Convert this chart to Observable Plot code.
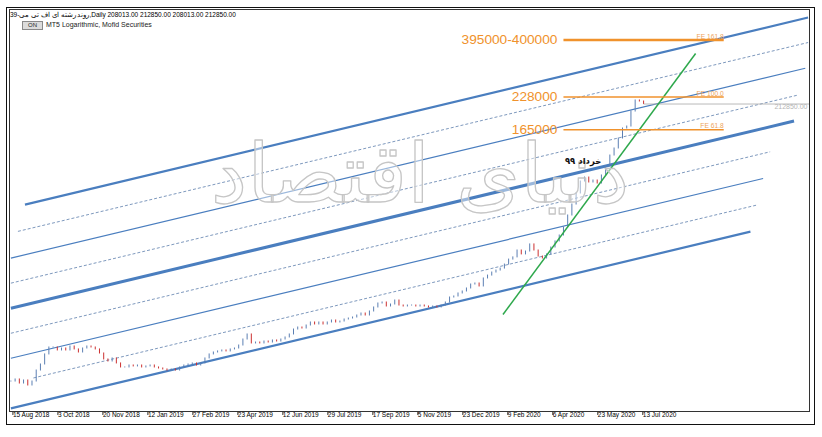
<!DOCTYPE html>
<html><head><meta charset="utf-8">
<script src="https://cdn.jsdelivr.net/npm/d3@7"></script>
<script src="https://cdn.jsdelivr.net/npm/@observablehq/plot@0.6"></script>
<style>
body{margin:0;background:#fff;width:822px;height:437px;overflow:hidden;position:relative;font-family:"Liberation Sans",Arial,sans-serif;}
#chart{position:absolute;left:0;top:0;}
#outer{position:absolute;left:6px;top:7px;width:809px;height:418px;border:1.5px solid #111;box-sizing:border-box;pointer-events:none;}
#hdr{position:absolute;left:10px;top:10.5px;font-size:6.5px;line-height:8px;color:#000;white-space:nowrap;}
#on{position:absolute;left:22px;top:21px;width:19px;height:7px;background:#dcdcdc;border:0.8px solid #8a8a8a;font-size:6px;line-height:7px;text-align:center;color:#222;}
#src{position:absolute;left:46px;top:20.5px;font-size:7px;line-height:8px;color:#222;white-space:nowrap;}
</style></head>
<body>
<div id="chart"></div>
<div id="hdr"></div>
<div id="on">ON</div>
<div id="src"></div>
<div id="outer"></div>
<script>
// ---------- data ----------
const headerText = "39-روند رشته ای اف تی می,Daily  208013.00 212850.00 208013.00 212850.00";
const sourceText = "MT5 Logarithmic, Mofid Securities";

const tickLabels = ["15 Aug 2018","3 Oct 2018","20 Nov 2018","12 Jan 2019","27 Feb 2019","23 Apr 2019","12 Jun 2019","29 Jul 2019","17 Sep 2019","5 Nov 2019","23 Dec 2019","9 Feb 2020","6 Apr 2020","23 May 2020","13 Jul 2020"];
const tickBars = [0,32,64,96,128,160,192,224,256,288,320,352,384,416,448];

const barStep = 3; // one close every 3 trading bars
const closes = [13790,14070,13520,13930,13260,13790,15370,16310,18010,19290,
19290,18730,19100,18730,19480,18920,18360,19100,19480,19290,
18920,18180,17140,16800,17310,16480,15840,15840,16150,16000,
16150,15840,16000,16150,15840,15680,15530,15370,15530,15370,
15840,16150,16310,16480,16150,16480,17310,18010,18360,18550,
18730,18550,18920,19100,19670,20870,21930,20070,20260,20070,
20460,20260,20670,20460,20870,21290,21930,23030,23490,23260,
23960,24680,24200,24680,24200,24680,25170,24680,24920,25420,
25670,25930,26440,26970,26440,27510,28620,29770,30060,28900,
29470,30660,29180,28900,29180,29180,28900,29180,28900,28620,
28900,28620,29180,30060,31580,31900,32860,33510,34520,35900,
36260,35210,38100,39200,40400,41200,42000,43700,45900,46900,
50200,48300,49700,53300,50200,47300,46400,48300,51700,54900,
58200,63000,70900,79000,88100,99100,103100,98200,100100,97200,
105200,115000,128100,137300,151500,167200,170500,197700,220400,218200,
212850];

// parallel channel lines (bar index, price)
const channelKind = ["thick","dash","thin","dash","thickest","dash","thin","dash","thick"];
const channelStartBar = [0,16,0,0,0,0,0,5,10];
const channelEndBar = [526,530,535,540,557,560,565,567,567];
const channelStartPrice = [10580,14283,17340,22198,28418,36380,46574,60620,78900];
const channelEndPrice = [60470,78450,102100,132900,180000,232700,302900,390400,499700];

// green trend line
const greenBars = [350, 487];
const greenPrices = [26700, 350300];

// target levels
const targetLabels = ["395000-400000","228000","165000"];
const targetPrices = [400000,228000,165000];
const feLabels = ["FE 161.8","FE 100.0","FE 61.8"];
const targetBars = [393, 507];

const lastPrice = 212850;
const lastBar = 450;

const noteText = "خرداد ۹۹";
const noteBar = 407, notePrice = 120800;

const watermarkText = "دنیای اقتصاد";
const watermarkBar = 291, watermarkPrice = 105000;

const xDomain = [-1, 568];
const yDomain = [10260, 540700];

// ---------- build ----------
document.getElementById("hdr").textContent = headerText;
document.getElementById("src").textContent = sourceText;

const candles = closes.map((c, i) => {
  const o = i === 0 ? c : closes[i - 1];
  return {bar: i * barStep, open: o, close: c, hi: Math.max(o, c), lo: Math.min(o, c)};
});
const channels = channelKind.map((k, i) => ({kind: k, b1: channelStartBar[i], b2: channelEndBar[i], p1: channelStartPrice[i], p2: channelEndPrice[i]}));
const levels = targetLabels.map((t, i) => ({label: t, fe: feLabels[i], price: targetPrices[i], main: i === 0}));

const blue = "#4a7ebf";
const orange = "#f0922c";
const linkOpt = {x1: "b1", y1: "p1", x2: "b2", y2: "p2"};

const chart = Plot.plot({
  width: 822, height: 437,
  marginLeft: 9, marginRight: 13, marginTop: 9, marginBottom: 26,
  style: {fontFamily: "'Liberation Sans', Arial, sans-serif", background: "transparent", overflow: "visible"},
  x: {type: "linear", domain: xDomain},
  y: {type: "log", domain: yDomain, axis: null},
  marks: [
    Plot.link(channels.filter(d => d.kind === "dash"), {...linkOpt, stroke: "#6f8db6", strokeWidth: 0.9, strokeDasharray: "3,2"}),
    Plot.link(channels.filter(d => d.kind === "thin"), {...linkOpt, stroke: blue, strokeWidth: 1.2}),
    Plot.link(channels.filter(d => d.kind === "thick"), {...linkOpt, stroke: blue, strokeWidth: 2.2}),
    Plot.link(channels.filter(d => d.kind === "thickest"), {...linkOpt, stroke: blue, strokeWidth: 3}),
    Plot.ruleX(candles, {x: "bar", y1: "hi", y2: "lo", stroke: d => d.close < d.open ? "#cc3030" : "#5b7fb3", strokeWidth: 1, strokeLinecap: "square"}),
    Plot.link([{b1: lastBar, b2: xDomain[1], p1: lastPrice, p2: lastPrice}], {...linkOpt, stroke: "#b0b0b0", strokeWidth: 0.9}),
    Plot.link([{b1: greenBars[0], b2: greenBars[1], p1: greenPrices[0], p2: greenPrices[1]}], {...linkOpt, stroke: "#2ea84c", strokeWidth: 1.5}),
    Plot.text([{t: watermarkText, b: watermarkBar, p: watermarkPrice}], {x: "b", y: "p", text: "t", fontSize: 82, fontFamily: "DejaVu Sans", fill: "white", fillOpacity: 0.45, stroke: "#c6c6c6", strokeWidth: 1.3, paintOrder: "normal"}),
    Plot.link(levels, {x1: () => targetBars[0], x2: () => targetBars[1], y1: "price", y2: "price", stroke: orange, strokeWidth: d => d.main ? 2.5 : 1.5}),
    Plot.text(levels, {x: () => targetBars[0], y: "price", text: "label", textAnchor: "end", dx: -6, fontSize: 13.7, fill: orange}),
    Plot.text(levels, {x: () => targetBars[1], y: "price", text: "fe", textAnchor: "end", lineAnchor: "bottom", dy: -1.5, fontSize: 6.7, fill: "#eda35a"}),
    Plot.text([lastPrice], {x: () => xDomain[1], y: d => d, text: d => d.toFixed(2), textAnchor: "end", dx: -2, lineAnchor: "top", fontSize: 7, fill: "#b5b5b5"}),
    Plot.text([{t: noteText, b: noteBar, p: notePrice}], {x: "b", y: "p", text: "t", fontSize: 8.5, fontWeight: "bold", fontFamily: "DejaVu Sans", fill: "#111"}),
    Plot.frame({stroke: "#333", strokeWidth: 1}),
    Plot.axisX(tickBars, {anchor: "bottom", tickFormat: d => tickLabels[tickBars.indexOf(d)], tickSize: 4, tickPadding: -3, textAnchor: "start", dx: 2, fontSize: 6.5, label: null, stroke: "#333"})
  ]
});
document.getElementById("chart").appendChild(chart);
</script>
</body></html>
